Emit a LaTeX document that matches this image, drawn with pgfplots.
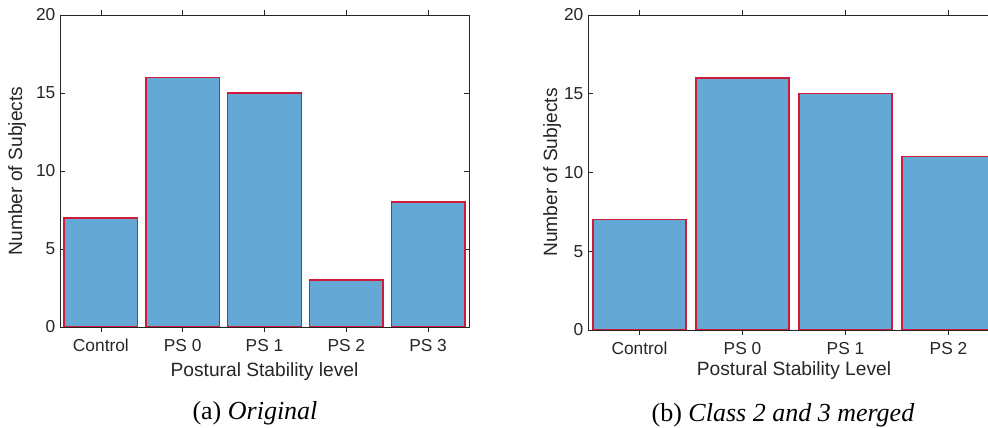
\documentclass[border=0pt]{standalone}
\usepackage{pgfplots}
\pgfplotsset{compat=1.18}
\usepackage{fontspec}
\setmainfont{Liberation Serif}
\newfontfamily\arial{Liberation Sans}
\definecolor{barfill}{RGB}{100,168,214}
\definecolor{baredge}{RGB}{210,25,55}
\definecolor{axgray}{RGB}{38,38,38}
\definecolor{txtgray}{RGB}{38,38,38}
\pgfplotsset{mystyle/.style={
  scale only axis,
  ymin=0, ymax=20, ytick={0,5,10,15,20},
  enlargelimits=false,
  tick align=inside,
  xtick pos=both, ytick pos=both,
  major tick length=3.5pt,
  axis line style={axgray, line width=0.6pt},
  every tick/.style={axgray, line width=0.6pt},
  tick label style={font=\arial\fontsize{13}{15}\selectfont, text=txtgray},
  xticklabel style={yshift=-2pt},
  label style={font=\arial\fontsize{14.4}{17}\selectfont, text=txtgray},
  /pgf/number format/assume math mode=true,
  ybar, bar width=0.9,
}}
\begin{document}
\begin{tikzpicture}
\begin{axis}[mystyle,
  at={(45pt,75.75pt)}, anchor=south west,
  width=306.75pt, height=234pt,
  xmin=0.5, xmax=5.5, xtick={1,2,3,4,5},
  xticklabels={Control, PS 0, PS 1, PS 2, PS 3},
  xlabel={Postural Stability level},
  ylabel={Number of Subjects},
  xlabel style={at={(axis description cs:0.5,-0.144)}, anchor=center},
  ylabel style={at={(axis description cs:-0.105,0.5)}, anchor=center},
]
\addplot[fill=barfill, draw=baredge, line width=1.1pt] coordinates {(1,7) (2,16) (3,15) (4,3) (5,8)};
\end{axis}
\begin{axis}[mystyle,
  at={(441pt,73.5pt)}, anchor=south west,
  width=309pt, height=236.25pt,
  xmin=0.5, xmax=4.5, xtick={1,2,3,4},
  xticklabels={Control, PS 0, PS 1, PS 2},
  xlabel={Postural Stability Level},
  ylabel={Number of Subjects},
  xlabel style={at={(axis description cs:0.5,-0.13)}, anchor=center},
  ylabel style={at={(axis description cs:-0.087,0.5)}, anchor=center},
]
\addplot[fill=barfill, draw=baredge, line width=1.1pt] coordinates {(1,7) (2,16) (3,15) (4,11)};
\end{axis}
\node[font=\fontsize{19.5}{23}\selectfont] at (191.25pt,11.25pt) {(a) \textit{Original}};
\node[font=\fontsize{19.5}{23}\selectfont] at (587.25pt,9.75pt) {(b) \textit{Class 2 and 3 merged}};
\pgfresetboundingbox
\useasboundingbox (0pt,0pt) rectangle (741pt,321pt);
\end{tikzpicture}
\end{document}
